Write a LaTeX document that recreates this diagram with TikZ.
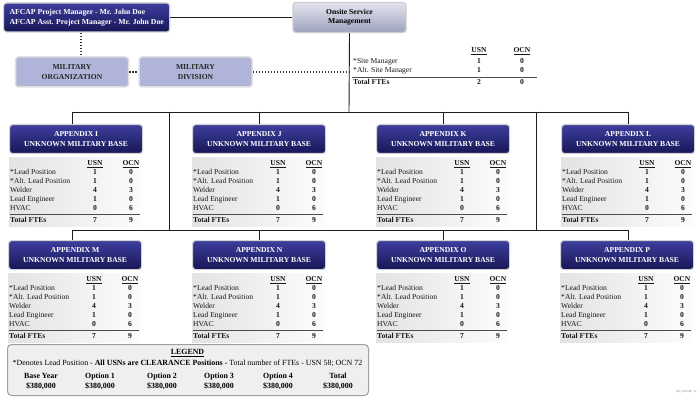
\documentclass[tikz,border=0pt]{standalone}
\usepackage{fontspec}
\setmainfont{Liberation Serif}
\definecolor{hdrtop}{RGB}{62,62,158}
\definecolor{hdrbot}{RGB}{22,22,86}
\definecolor{milfill}{RGB}{176,180,216}
\definecolor{ostop}{RGB}{228,228,238}
\definecolor{osbot}{RGB}{158,161,190}
\definecolor{legfill}{RGB}{238,240,238}
\definecolor{linecol}{RGB}{30,30,30}
\tikzset{
  hdr/.style={rounded corners=3pt, top color=hdrtop, bottom color=hdrbot, draw=gray!35, line width=1.2pt,
    minimum width=133pt, minimum height=29pt, text=white, font=\bfseries\fontsize{7.6}{10}\selectfont,
    align=center, inner sep=0pt},
  afbox/.style={rounded corners=3pt, top color=hdrtop, bottom color=hdrbot, draw=gray!35, line width=1.2pt,
    minimum height=29pt, text=white, font=\bfseries\fontsize{7.7}{10}\selectfont, align=left, inner xsep=6pt},
  milbox/.style={rounded corners=3pt, fill=milfill, draw=gray!25, line width=1.5pt,
    minimum width=113pt, minimum height=30pt, text=black!85, font=\bfseries\fontsize{7.6}{10}\selectfont,
    align=center, inner sep=0pt},
  osbox/.style={rounded corners=3pt, top color=ostop, bottom color=osbot, draw=gray!40, line width=1.2pt,
    minimum width=113pt, minimum height=30pt, text=black, font=\bfseries\fontsize{7.6}{9}\selectfont,
    align=center, inner sep=0pt},
  tbl/.style={left color=gray!22, right color=gray!2},
  rowtxt/.style={inner sep=0pt, font=\fontsize{7.6}{8}\selectfont, text=black!90},
  numtxt/.style={inner sep=0pt, font=\bfseries\fontsize{7.6}{8}\selectfont, text=black!90},
  tline/.style={line width=0.7pt, draw=black!70},
  conn/.style={line width=0.9pt, draw=linecol},
  dotconn/.style={line width=1.2pt, draw=black!80, dash pattern=on 1.5pt off 1.5pt},
  legbox/.style={rounded corners=4pt, fill=legfill, draw=gray!75, line width=1pt, inner sep=0pt},
  legtxt/.style={inner sep=0pt, font=\fontsize{7.9}{9}\selectfont},
  legnum/.style={inner sep=0pt, font=\bfseries\fontsize{7.9}{9}\selectfont},
}
\newcommand\approw[6]{%
  \node[rowtxt, anchor=base west] (#1l) at (#2+1,#3) {#4};
  \node[numtxt, anchor=base] (#1u) at (#2+86,#3) {#5};
  \node[numtxt, anchor=base] (#1o) at (#2+122,#3) {#6};
}
\newcommand\appbox[4]{%
  \node[hdr, anchor=north west] (#1) at (#2,#3) {APPENDIX #4\\UNKNOWN MILITARY BASE};
  \fill[tbl] (#2,#3+33) rectangle (#2+133,#3+102);
  \node[numtxt, anchor=base] (#1-usn) at (#2+86,#3+41.5) {\underline{USN}};
  \node[numtxt, anchor=base] (#1-ocn) at (#2+122,#3+41.5) {\underline{OCN}};
  \approw{#1-a}{#2}{#3+50.5}{*Lead Position}{1}{0}
  \approw{#1-b}{#2}{#3+59.5}{*Alt. Lead Position}{1}{0}
  \approw{#1-c}{#2}{#3+68.5}{Welder}{4}{3}
  \approw{#1-d}{#2}{#3+77.5}{Lead Engineer}{1}{0}
  \approw{#1-e}{#2}{#3+86.5}{HVAC}{0}{6}
  \draw[tline] (#2+1,#3+90) -- (#2+131,#3+90);
  \approw{#1-t}{#2}{#3+98.5}{\textbf{Total FTEs}}{7}{9}
}
\begin{document}
\begin{tikzpicture}[x=1pt,y=-1pt]
\useasboundingbox (0,0) rectangle (700,398);
\fill[white] (0,0) rectangle (700,398);

% top boxes
\node[afbox, anchor=west] (afcap) at (3,17.5) {AFCAP Project Manager - Mr. John Doe\\AFCAP Asst. Project Manager - Mr. John Doe};
\node[osbox] (onsite) at (349.5,17.5) {Onsite Service\\Management};
\node[milbox] (milorg) at (72,72) {MILITARY\\ORGANIZATION};
\node[milbox] (mildiv) at (195.5,72) {MILITARY\\DIVISION};

% onsite table
\node[numtxt, anchor=base] (os-usn) at (479,52.5) {\underline{USN}};
\node[numtxt, anchor=base] (os-ocn) at (522,52.5) {\underline{OCN}};
\node[rowtxt, anchor=base west] (os-al) at (353,63.5) {*Site Manager};
\node[numtxt, anchor=base] (os-au) at (479,63.5) {1};
\node[numtxt, anchor=base] (os-ao) at (522,63.5) {0};
\node[rowtxt, anchor=base west] (os-bl) at (353,72.5) {*Alt. Site Manager};
\node[numtxt, anchor=base] (os-bu) at (479,72.5) {1};
\node[numtxt, anchor=base] (os-bo) at (522,72.5) {0};
\draw[tline] (352,77) -- (537,77);
\node[numtxt, anchor=base west] (os-tl) at (353,84.5) {Total FTEs};
\node[numtxt, anchor=base] (os-tu) at (479,84.5) {2};
\node[numtxt, anchor=base] (os-to) at (522,84.5) {0};

% appendix boxes
\appbox{appI}{9}{124}{I}
\appbox{appJ}{192}{124}{J}
\appbox{appK}{376}{124}{K}
\appbox{appL}{561}{124}{L}
\appbox{appM}{8}{240}{M}
\appbox{appN}{192}{240}{N}
\appbox{appO}{376}{240}{O}
\appbox{appP}{560}{240}{P}

% connectors
\coordinate (bus1c) at (349,112);
\coordinate (bus1L) at (72,112);
\coordinate (bus1R) at (628,112);
\coordinate (bus2L) at (72,230);
\coordinate (bus2R) at (628,230);
\coordinate (vl) at (169,112);
\coordinate (vr) at (536,112);
\coordinate (dotx) at (81,0);
\draw[conn] (afcap.east) -- (onsite.west);
\draw[conn] (onsite.south) -- (bus1c);
\draw[conn] (bus1L) -- (bus1R);
\draw[conn] (bus1L) -- (bus1L |- appI.north);
\draw[conn] (appJ.north |- bus1c) -- (appJ.north);
\draw[conn] (appK.north |- bus1c) -- (appK.north);
\draw[conn] (bus1R) -- (bus1R |- appL.north);
\draw[conn] (vl) -- (vl |- bus2L);
\draw[conn] (vr) -- (vr |- bus2L);
\draw[conn] (bus2L) -- (bus2R);
\draw[conn] (bus2L) -- (bus2L |- appM.north);
\draw[conn] (appN.north |- bus2L) -- (appN.north);
\draw[conn] (appO.north |- bus2L) -- (appO.north);
\draw[conn] (bus2R) -- (bus2R |- appP.north);
\draw[dotconn] (afcap.south -| dotx) -- (milorg.north -| dotx);
\draw[dotconn] (milorg.east) -- (mildiv.west);
\draw[dotconn] (mildiv.east) -- (mildiv.east -| bus1c);

% legend
\node[legbox, anchor=north west, minimum width=361pt, minimum height=51pt] (legend) at (7,344) {};
\node[legnum, anchor=base] (legtitle) at (187.5,354.5) {\underline{LEGEND}};
\node[legtxt, anchor=base] (legline) at (187.5,365.5) {*Denotes Lead Position \textbf{- All USNs are CLEARANCE Positions -} Total number of FTEs - USN 58; OCN 72};
\node[legnum, anchor=base] (ly1) at (41,378.5) {Base Year};
\node[legnum, anchor=base] (ly2) at (100,378.5) {Option 1};
\node[legnum, anchor=base] (ly3) at (162,378.5) {Option 2};
\node[legnum, anchor=base] (ly4) at (219,378.5) {Option 3};
\node[legnum, anchor=base] (ly5) at (278,378.5) {Option 4};
\node[legnum, anchor=base] (ly6) at (338,378.5) {Total};
\node[legnum, anchor=base] (lv1) at (41,388.5) {\$380,000};
\node[legnum, anchor=base] (lv2) at (100,388.5) {\$380,000};
\node[legnum, anchor=base] (lv3) at (162,388.5) {\$380,000};
\node[legnum, anchor=base] (lv4) at (219,388.5) {\$380,000};
\node[legnum, anchor=base] (lv5) at (278,388.5) {\$380,000};
\node[legnum, anchor=base] (lv6) at (338,388.5) {\$380,000};

\node[inner sep=0pt, font=\fontsize{3}{3}\selectfont, text=gray, anchor=east] (foot) at (697,392) {001\_AFCAP\_JC};
\end{tikzpicture}
\end{document}
